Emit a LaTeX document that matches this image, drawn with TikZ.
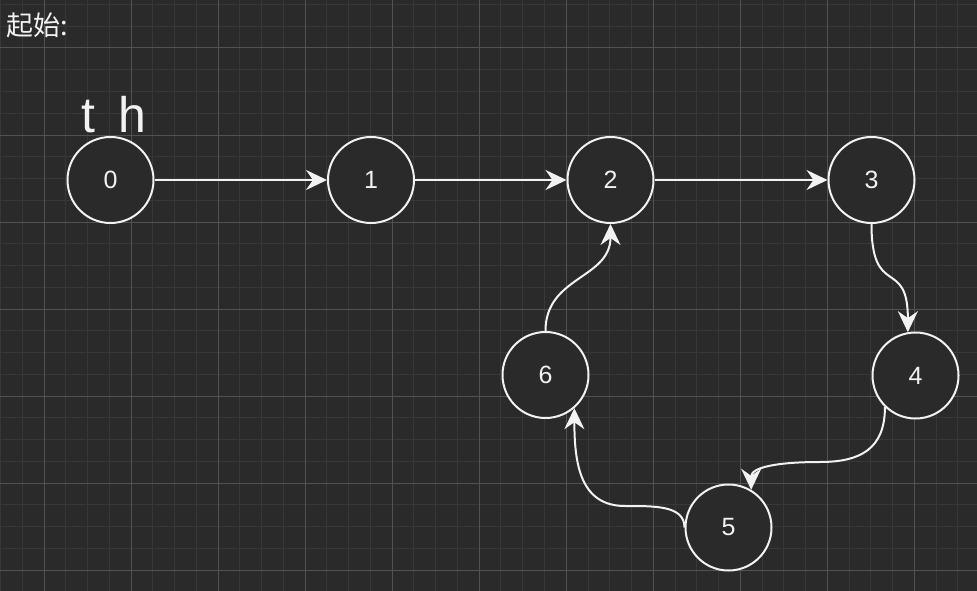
\documentclass[tikz,border=0pt]{standalone}
\usepackage{fontspec}
\setmainfont{Liberation Sans}
\newfontfamily\cjk{Noto Sans CJK SC}
\usetikzlibrary{arrows.meta}
\definecolor{bg}{HTML}{2A2A2A}
\definecolor{minorgrid}{HTML}{383838}
\definecolor{majorgrid}{HTML}{525252}
\definecolor{fg}{HTML}{F2F2F2}
\tikzset{
  vertex/.style={circle, draw=fg, line width=2pt, fill=bg, minimum size=86pt, inner sep=0pt,
    text=fg, font=\fontsize{25}{28}\selectfont},
  edge/.style={draw=fg, line width=2pt, -{Stealth[length=21pt,width=20pt,inset=7pt]}},
  label/.style={inner sep=0pt, text=fg},
}
\begin{document}
\begin{tikzpicture}[x=1pt,y=-1pt]
\useasboundingbox (0,0) rectangle (977,591);
\fill[bg] (0,0) rectangle (977,591);
% grid
\foreach \k in {0,...,44} {
  \draw[minorgrid, line width=1pt] ({0.48+\k*21.76},0) -- ({0.48+\k*21.76},591);
}
\foreach \k in {0,...,27} {
  \draw[minorgrid, line width=1pt] (0,{4.48+\k*21.76}) -- (977,{4.48+\k*21.76});
}
\foreach \k in {0,...,10} {
  \draw[majorgrid, line width=1pt] ({44+\k*87.04},0) -- ({44+\k*87.04},591);
}
\foreach \k in {0,...,6} {
  \draw[majorgrid, line width=1pt] (0,{48+\k*87.04}) -- (977,{48+\k*87.04});
}
% texts
\node[label, anchor=base west, font=\cjk\fontsize{27}{30}\selectfont] (title) at (6,36) {起始:};
\node[label, anchor=base, font=\fontsize{50}{56}\selectfont] (th) at (114,133) {t\hspace{10pt} h};
% nodes
\node[vertex] (n0) at (110.5,180) {0};
\node[vertex] (n1) at (371,180) {1};
\node[vertex] (n2) at (610.5,180) {2};
\node[vertex] (n3) at (871.5,180) {3};
\node[vertex] (n4) at (915.5,375.5) {4};
\node[vertex] (n5) at (728.5,527.5) {5};
\node[vertex] (n6) at (545.5,375) {6};
\coordinate (c45) at (820,462);
\coordinate (c56) at (625,506);
% edges
\draw[edge] (n0) -- (n1);
\draw[edge] (n1) -- (n2);
\draw[edge] (n2) -- (n3);
\draw[edge] (n3.south) .. controls +(0,76) and +(0,-76) .. (n4.100);
\draw[edge] (n4.226) .. controls +(0,42) and +(40,0) .. (c45) .. controls +(-45,0) and +(0,-22) .. (n5.59);
\draw[edge] (n5.west) .. controls +(0,-22) and +(30,0) .. (c56) .. controls +(-45,0) and +(0,55) .. (n6.311);
\draw[edge] (n6.north) .. controls +(0,-55) and +(0,55) .. (n2.south);
\end{tikzpicture}
\end{document}
